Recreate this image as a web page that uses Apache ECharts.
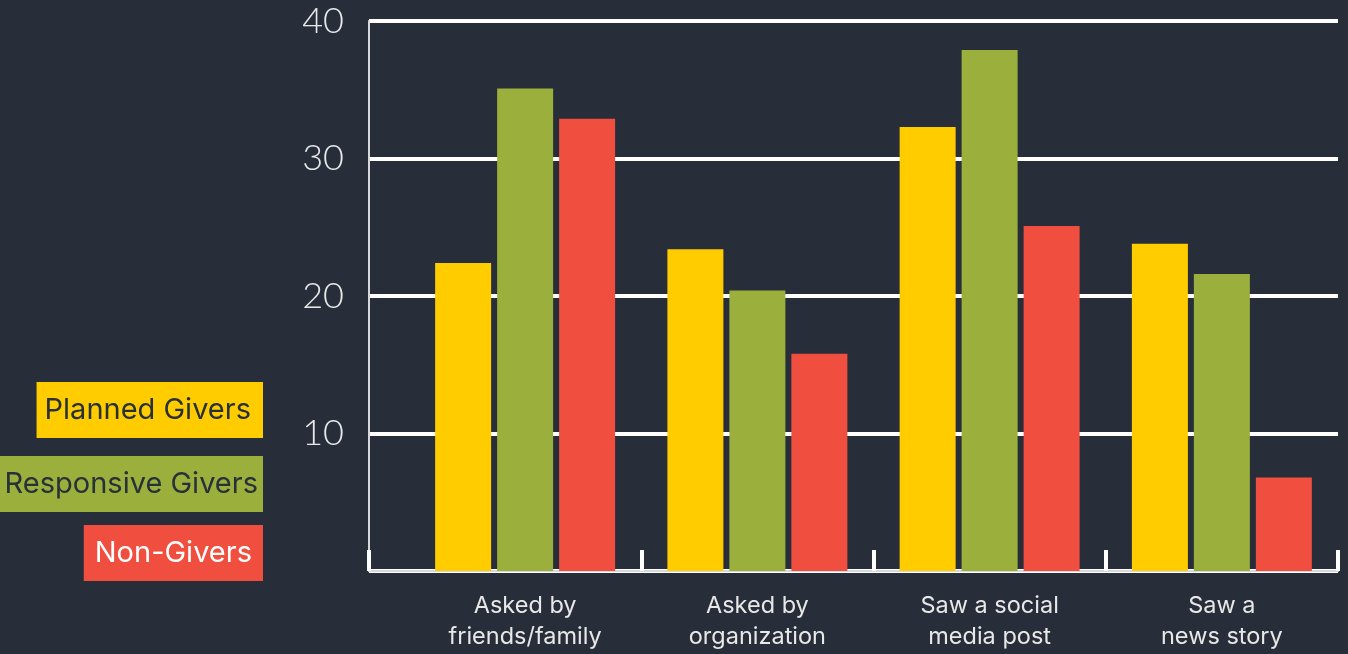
<!DOCTYPE html>
<html>
<head>
<meta charset="utf-8">
<script src="https://cdn.jsdelivr.net/npm/echarts@6/dist/echarts.min.js"></script>
<style>
  html, body { margin: 0; padding: 0; background: #272e39; }
  #chart { width: 1348px; height: 654px; }
</style>
</head>
<body>
<div id="chart"></div>
<script>
// Where givers first heard about the cause, by giver type
const categories = [
  'Asked by\nfriends/family',
  'Asked by\norganization',
  'Saw a social\nmedia post',
  'Saw a\nnews story'
];
const seriesNames = ['Planned Givers', 'Responsive Givers', 'Non-Givers'];
const plannedGivers = [22.4, 23.4, 32.3, 23.8];
const responsiveGivers = [35.1, 20.4, 37.9, 21.6];
const nonGivers = [32.9, 15.8, 25.1, 6.8];
const yTicks = [0, 10, 20, 30, 40];

const colors = ['#ffcc00', '#9aaf3c', '#f04e3e'];
const font = 'Inter, "Noto Sans", sans-serif';
const numFont = 'Lato, "Noto Sans", sans-serif';

const chart = echarts.init(document.getElementById('chart'));

function legendBox(name, color, textColor, padLeft, padRight, top) {
  return {
    data: [name],
    right: 1348 - 263,
    top: top,
    orient: 'vertical',
    icon: 'none',
    itemWidth: 0,
    itemHeight: 30,
    selectedMode: false,
    backgroundColor: color,
    padding: [13, padRight, 13, padLeft],
    textStyle: { fontSize: 29, color: textColor, fontFamily: font, lineHeight: 30 }
  };
}

const tickStyle = { show: true, inside: true, length: 21, lineStyle: { color: '#ffffff', width: 4 } };

chart.setOption({
  backgroundColor: '#272e39',
  animation: false,
  legend: [
    legendBox(seriesNames[0], colors[0], '#283039', 3, 12, 382),
    legendBox(seriesNames[1], colors[1], '#283039', 2, 5, 456),
    legendBox(seriesNames[2], colors[2], '#ffffff', 6, 11, 525)
  ],
  grid: [
    { left: 369, right: 10, top: 21, bottom: 83 },
    { left: 409, right: 10, top: 21, bottom: 83 }
  ],
  xAxis: [
    {
      // frame axis: baseline plus the tick at the value axis
      type: 'category', gridIndex: 0, data: [''],
      axisLine: { show: true, lineStyle: { color: '#d6d8db', width: 2 } },
      axisTick: tickStyle,
      axisLabel: { show: false },
      splitLine: { show: false }
    },
    {
      type: 'category', gridIndex: 1, data: categories,
      axisLine: { show: false },
      axisTick: Object.assign({}, tickStyle, { interval: function (i) { return i !== 0; } }),
      axisLabel: {
        interval: 0, margin: 19, color: '#e8e8e8', fontSize: 23.5,
        lineHeight: 31, fontFamily: font
      }
    }
  ],
  yAxis: [
    {
      type: 'value', gridIndex: 0, min: yTicks[0], max: yTicks[yTicks.length - 1], interval: 10,
      axisLine: { show: true, lineStyle: { color: '#d6d8db', width: 2 } },
      axisTick: { show: false },
      splitLine: { show: true, lineStyle: { color: '#ffffff', width: 4 } },
      axisLabel: {
        margin: 25, color: '#e8e8e8', fontSize: 36, fontWeight: 300, fontFamily: numFont,
        formatter: function (v) { return v === 0 ? '' : String(v); }
      }
    },
    {
      type: 'value', gridIndex: 1, min: yTicks[0], max: yTicks[yTicks.length - 1], interval: 10,
      show: false, splitLine: { show: false }
    }
  ],
  series: [
    { name: seriesNames[0], data: plannedGivers, color: colors[0] },
    { name: seriesNames[1], data: responsiveGivers, color: colors[1] },
    { name: seriesNames[2], data: nonGivers, color: colors[2] }
  ].map(function (s) {
    return Object.assign({
      type: 'bar', xAxisIndex: 1, yAxisIndex: 1,
      barWidth: 56, barGap: '10.7%'
    }, s);
  })
});
</script>
</body>
</html>
